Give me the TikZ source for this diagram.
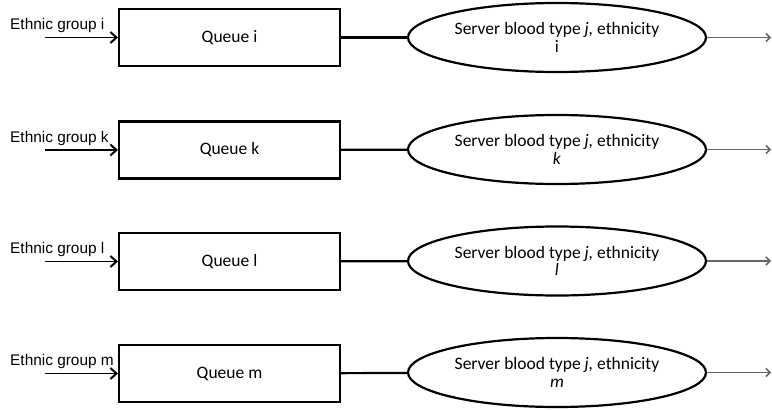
\documentclass[tikz,border=0pt]{standalone}
\usepackage{fontspec}
\setmainfont{Carlito}
\newfontfamily\arialfont{Liberation Sans}
\usetikzlibrary{shapes.geometric, arrows.meta}

\begin{document}
\begin{tikzpicture}[x=1pt, y=-1pt,
        queuebox/.style={rectangle, draw, line width=2.2pt, minimum width=221pt, minimum height=57pt, inner sep=0pt, font=\fontsize{17.5}{17.5}\selectfont},
        server/.style={ellipse, draw, line width=2.2pt, minimum width=298pt, minimum height=69pt, inner sep=0pt, align=center, font=\fontsize{17.5}{17.5}\selectfont},
        grouplabel/.style={anchor=west, inner sep=0pt, font=\arialfont\fontsize{15.4}{16}\selectfont},
        arrival/.style={-{Straight Barb[length=6pt, width=11pt, line width=2pt]}, line width=1.3pt},
        link/.style={line width=2.2pt},
        departure/.style={-{Straight Barb[length=4pt, width=8pt, line width=1.5pt]}, line width=1.1pt, draw=black!60}]
        \useasboundingbox (0,0) rectangle (772,410);

        % Draw nodes
        \node[queuebox] (qi) at (229.5,37.5) {Queue i};
        \node[queuebox] (qk) at (229.5,150) {Queue k};
        \node[queuebox] (ql) at (229.5,261.5) {Queue l};
        \node[queuebox] (qm) at (229.5,373.5) {Queue m};

        \node[server] (si) at (557,37.5) {Server blood type \textit{j,} ethnicity\\i};
        \node[server] (sk) at (557,149.5) {Server blood type \textit{j,} ethnicity\\\textit{k}};
        \node[server] (sl) at (557,261) {Server blood type \textit{j,} ethnicity\\\textit{l}};
        \node[server] (sm) at (557,372.5) {Server blood type \textit{j,} ethnicity\\\textit{m}};

        % Labels
        \node[grouplabel] (gi) at (10,25.5) {Ethnic group i};
        \node[grouplabel] (gk) at (10,138.5) {Ethnic group k};
        \node[grouplabel] (gl) at (10,249.5) {Ethnic group l};
        \node[grouplabel] (gm) at (10,361.5) {Ethnic group m};

        \coordinate (ini) at (45,37.5);
        \coordinate (ink) at (45,150);
        \coordinate (inl) at (45,261.5);
        \coordinate (inm) at (45,373.5);
        \coordinate (outi) at (771,37.5);
        \coordinate (outk) at (771,149.5);
        \coordinate (outl) at (771,261);
        \coordinate (outm) at (771,372.5);

        % Draw connections
        \draw[arrival] (ini) -- (qi);
        \draw[arrival] (ink) -- (qk);
        \draw[arrival] (inl) -- (ql);
        \draw[arrival] (inm) -- (qm);

        \draw[link] (qi) -- (si);
        \draw[link] (qk) -- (sk);
        \draw[link] (ql) -- (sl);
        \draw[link] (qm) -- (sm);

        \draw[departure] (si) -- (outi);
        \draw[departure] (sk) -- (outk);
        \draw[departure] (sl) -- (outl);
        \draw[departure] (sm) -- (outm);
    \end{tikzpicture}
\end{document}
